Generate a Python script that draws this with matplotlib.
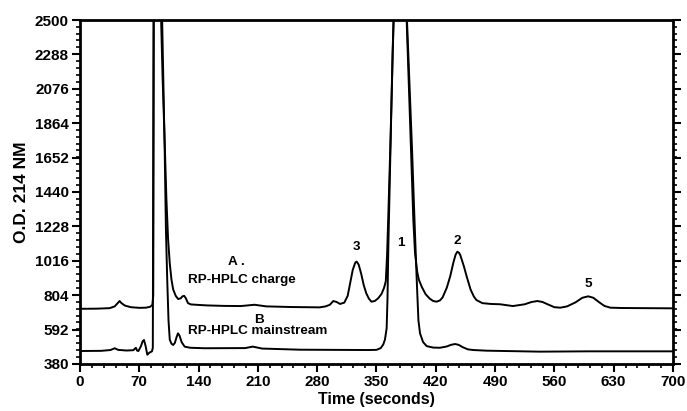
import matplotlib
matplotlib.use('Agg')
import matplotlib.pyplot as plt
from matplotlib.ticker import MultipleLocator

plt.rcParams['font.family'] = ['Liberation Sans', 'DejaVu Sans']
plt.rcParams['font.weight'] = 'bold'

# trace A - RP-HPLC charge (time s, O.D.)
trace_a = [
    (0, 720), (20, 721), (35, 724), (41, 735), (44, 752), (46.8, 768), (49, 755),
    (53, 740), (60, 730), (70, 726), (78, 727), (83, 733), (85.5, 745), (86.5, 800),
    (87.2, 2500), (95.8, 2500), (97.5, 2150), (100, 1750), (102, 1400), (104, 1150),
    (106, 1000), (108, 900), (110, 840), (113, 800), (116, 780), (119, 785),
    (121, 797), (123, 800), (125, 785), (127.5, 755), (131, 747), (140, 744),
    (150, 741), (170, 738), (190, 737), (206, 745), (220, 735), (250, 731),
    (283, 729), (290, 735), (295, 745), (299, 768), (303, 762), (307, 750),
    (312, 758), (316, 800), (319, 880), (322, 960), (325, 1005), (326.6, 1011),
    (329, 992), (332, 935), (335, 865), (338, 815), (341, 783), (344, 764),
    (348, 768), (352, 785), (356, 812), (359, 850), (361, 890), (362.5, 1050),
    (364, 1300), (366.5, 1750), (369, 2250), (370.2, 2500),
    (385.6, 2500), (388, 2130), (390.5, 1740), (393.5, 1267), (395.5, 1064),
    (398, 950), (400, 900), (403.4, 856), (408, 810), (413, 782), (417, 768),
    (421, 764), (425, 772), (428, 790), (433, 850), (437, 920), (441, 1010),
    (443.5, 1055), (445.5, 1072), (447.5, 1065), (449, 1050), (453, 985),
    (457, 910), (461, 840), (465, 795), (468, 774), (475, 755), (485, 750),
    (496, 748), (511, 737), (525, 748), (533, 762), (540, 768), (546, 762),
    (552, 748), (560, 730), (567, 727), (575, 735), (585, 760), (593, 788),
    (600, 797), (606, 788), (613, 760), (619, 738), (626, 727), (640, 725),
    (700, 723),
]

# trace B - RP-HPLC mainstream
trace_b = [
    (0, 460), (25, 461), (36, 466), (41, 477), (45, 467), (55, 463), (63, 465),
    (66, 480), (67.5, 462), (69, 460), (72, 490), (74, 520), (75.6, 528),
    (77.5, 490), (79.5, 437), (82, 450), (85, 458), (86, 480), (86.8, 2500),
    (97, 2500), (98.5, 2100), (100, 1700), (101.5, 1200), (103, 900),
    (104.5, 650), (106, 530), (108, 505), (110, 497), (112, 510), (114, 545),
    (115.7, 569), (117.5, 555), (120, 515), (123.5, 487), (130, 480), (147, 477),
    (195, 478), (204, 487), (215, 475), (260, 468), (300, 467), (340, 466),
    (350, 467), (355, 478), (358, 500), (360, 530), (362, 600), (363, 780),
    (364, 1100), (366.5, 1700), (369, 2300), (370.2, 2500),
    (386, 2500), (389, 2100), (392, 1700), (395, 1250), (397.5, 900),
    (399.5, 650), (401.4, 569), (405, 515), (409.3, 490), (417, 481), (425, 480),
    (433, 488), (438, 498), (442.7, 503), (447, 498), (452, 483), (458, 470),
    (464.3, 466), (480, 462), (543, 456), (600, 458), (700, 458),
]

time_a, od_a = zip(*trace_a)
time_b, od_b = zip(*trace_b)

y_ticks = [380, 592, 804, 1016, 1228, 1440, 1652, 1864, 2076, 2288, 2500]
x_ticks = [0, 70, 140, 210, 280, 350, 420, 490, 560, 630, 700]

fig = plt.figure(figsize=(6.87, 4.11), dpi=100)
ax = fig.add_axes([0.1164, 0.1144, 0.8632, 0.8369])

ax.plot(time_a, od_a, color='black', lw=1.4)
ax.plot(time_b, od_b, color='black', lw=1.4)

ax.set_xlim(0, 700)
ax.set_ylim(380, 2500)
ax.set_xticks(x_ticks)
ax.set_yticks(y_ticks)
ax.xaxis.set_minor_locator(MultipleLocator(14))
ax.yaxis.set_minor_locator(MultipleLocator(42.4))

ax.tick_params(axis='both', which='major', direction='out', length=6, width=1.5,
               labelsize=11, pad=2)
ax.tick_params(axis='both', which='minor', direction='out', length=3, width=1.2)
ax.tick_params(axis='y', right=True, which='both')
ax.tick_params(axis='y', labelright=False)
for s in ax.spines.values():
    s.set_linewidth(2)

ax.set_xlabel('Time (seconds)', fontsize=11.5, fontweight='bold', labelpad=2)
ax.set_ylabel('O.D. 214 NM', fontsize=12.5, fontweight='bold', labelpad=4)

# peak / trace annotations
ax.text(174.7, 1008, 'A .', fontsize=9.7, ha='left', va='center')
ax.text(127.5, 898, 'RP-HPLC charge', fontsize=9.7, ha='left', va='center')
ax.text(205, 651, 'B', fontsize=9.7, ha='left', va='center')
ax.text(127.5, 583, 'RP-HPLC mainstream', fontsize=9.7, ha='left', va='center')
ax.text(326, 1101, '3', fontsize=9.7, ha='center', va='center')
ax.text(379, 1126, '1', fontsize=9.7, ha='center', va='center')
ax.text(445, 1138, '2', fontsize=9.7, ha='center', va='center')
ax.text(600, 873, '5', fontsize=9.7, ha='center', va='center')

fig.savefig('out.png', dpi=100)
